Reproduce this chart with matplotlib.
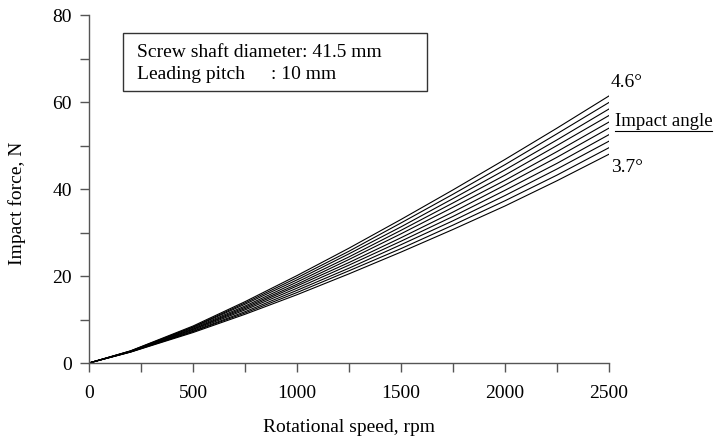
import matplotlib
matplotlib.use("Agg")
import matplotlib.pyplot as plt
from matplotlib.patches import Rectangle
from matplotlib.ticker import MultipleLocator

plt.rcParams["font.family"] = ["Liberation Serif", "DejaVu Serif"]

# rotational speed (rpm) sample points
rpm = [0, 200, 500, 750, 1000, 1250, 1500, 1750, 2000, 2250, 2500]

# impact force (N) per impact angle
force_37 = [0, 2.50, 7.0, 11.2, 15.7, 20.5, 25.5, 30.7, 36.1, 41.9, 48.0]
force_38 = [0, 2.53, 7.2, 11.5, 16.2, 21.2, 26.3, 31.7, 37.3, 43.2, 49.5]
force_39 = [0, 2.57, 7.3, 11.8, 16.7, 21.8, 27.2, 32.7, 38.5, 44.6, 51.0]
force_40 = [0, 2.60, 7.5, 12.2, 17.2, 22.5, 28.0, 33.7, 39.7, 45.9, 52.5]
force_41 = [0, 2.63, 7.7, 12.5, 17.7, 23.1, 28.8, 34.7, 40.9, 47.3, 54.0]
force_42 = [0, 2.67, 7.8, 12.8, 18.1, 23.8, 29.7, 35.8, 42.0, 48.6, 55.4]
force_43 = [0, 2.70, 8.0, 13.1, 18.6, 24.4, 30.5, 36.8, 43.2, 50.0, 56.9]
force_44 = [0, 2.73, 8.2, 13.5, 19.1, 25.1, 31.3, 37.8, 44.4, 51.3, 58.4]
force_45 = [0, 2.77, 8.3, 13.8, 19.6, 25.7, 32.2, 38.8, 45.6, 52.7, 59.9]
force_46 = [0, 2.80, 8.5, 14.1, 20.1, 26.4, 33.0, 39.8, 46.8, 54.0, 61.4]

curves = [force_37, force_38, force_39, force_40, force_41,
          force_42, force_43, force_44, force_45, force_46]

FS = 14

fig = plt.figure(figsize=(7.16, 4.40), dpi=100)
ax = fig.add_axes([0.1243, 0.175, 0.7263, 0.7909])

for f in curves:
    ax.plot(rpm, f, color="black", lw=0.8)

ax.set_xlim(0, 2500)
ax.set_ylim(0, 80)
ax.xaxis.set_major_locator(MultipleLocator(500))
ax.xaxis.set_minor_locator(MultipleLocator(250))
ax.yaxis.set_major_locator(MultipleLocator(20))
ax.yaxis.set_minor_locator(MultipleLocator(10))

for s in ("top", "right"):
    ax.spines[s].set_visible(False)
for s in ("left", "bottom"):
    ax.spines[s].set_color("#555555")
    ax.spines[s].set_linewidth(1.0)

ax.tick_params(which="both", direction="out", length=6.5, width=1.0,
               color="#555555", labelsize=FS)
ax.tick_params(axis="x", pad=9)
ax.tick_params(axis="y", pad=6)

fig.text(349 / 716, 1 - 427 / 440, "Rotational speed, rpm", fontsize=FS,
         ha="center", va="center")
fig.text(17 / 716, 1 - 203 / 440, "Impact force, N", rotation=90, fontsize=FS,
         ha="center", va="center")

# parameter box
ax.add_patch(Rectangle((0.0654, 0.781), 0.5846, 0.167, transform=ax.transAxes,
                       fc="white", ec="#333333", lw=1.0, clip_on=False))
ax.text(0.0923, 0.879, "Screw shaft diameter: 41.5 mm", transform=ax.transAxes,
        fontsize=FS, va="baseline", ha="left")
ax.text(0.0923, 0.816, "Leading pitch", transform=ax.transAxes,
        fontsize=FS, va="baseline", ha="left")
ax.text(0.350, 0.816, ": 10 mm", transform=ax.transAxes,
        fontsize=FS, va="baseline", ha="left")

# curve labels
ax.text(2510, 64.5, "4.6°", fontsize=FS, ha="left", va="center", clip_on=False)
ax.text(2510, 45.0, "3.7°", fontsize=FS, ha="left", va="center", clip_on=False)
ax.text(2528, 55.6, "Impact angle", fontsize=13.5, ha="left", va="center",
        clip_on=False)
ax.plot([2528, 2995], [53.4, 53.4], color="black", lw=0.8, clip_on=False)

fig.savefig("out.png", dpi=100)
